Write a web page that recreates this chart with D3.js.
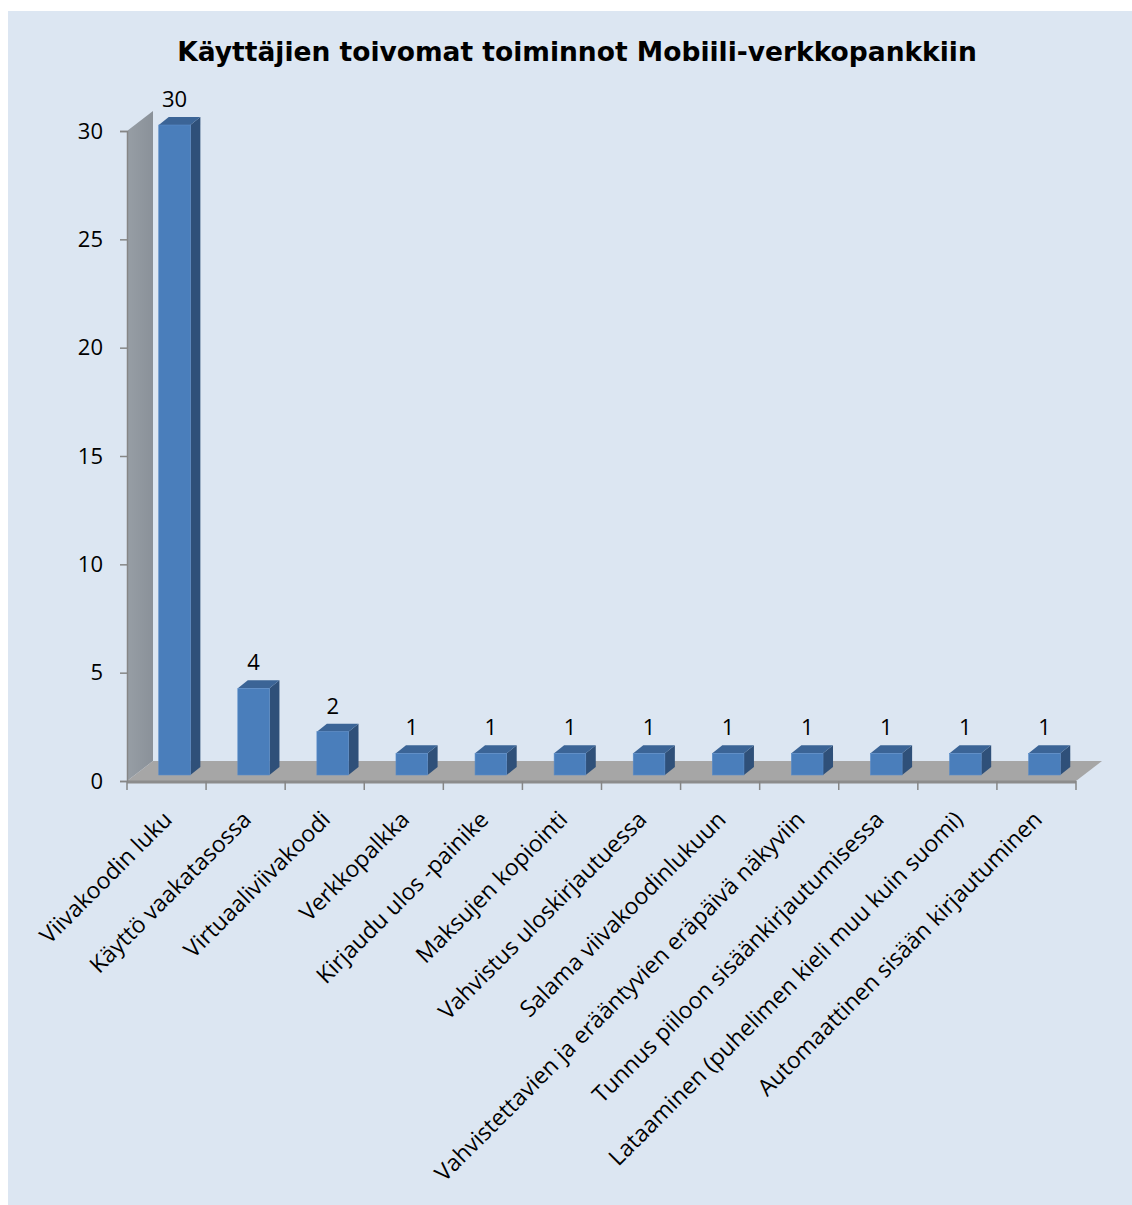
<!DOCTYPE html>
<html>
<head>
<meta charset="utf-8">
<script src="https://cdn.jsdelivr.net/npm/d3@7"></script>
<style>
  html, body { margin: 0; padding: 0; background: #ffffff; }
  svg { display: block; }
</style>
</head>
<body>
<svg id="chart" width="1132" height="1205"></svg>
<script>
// Chart data
const chartTitle = "Käyttäjien toivomat toiminnot Mobiili-verkkopankkiin";
const categories = [
  "Viivakoodin luku",
  "Käyttö vaakatasossa",
  "Virtuaaliviivakoodi",
  "Verkkopalkka",
  "Kirjaudu ulos -painike",
  "Maksujen kopiointi",
  "Vahvistus uloskirjautuessa",
  "Salama viivakoodinlukuun",
  "Vahvistettavien ja erääntyvien eräpäivä näkyviin",
  "Tunnus piiloon sisäänkirjautumisessa",
  "Lataaminen (puhelimen kieli muu kuin suomi)",
  "Automaattinen sisään kirjautuminen"
];
const counts = [30, 4, 2, 1, 1, 1, 1, 1, 1, 1, 1, 1];
const yTicks = [0, 5, 10, 15, 20, 25, 30];

const svg = d3.select("#chart");
const labelFont = "'Open Sans', Lato, sans-serif";

// Plot frame
const plot = { left: 127, right: 1076, top: 131, bottom: 781 };
const depth = { dx: 26, dy: -20 };      // back wall / floor depth
const barShift = { dx: 8, dy: -6 };     // bars sit partway into the floor
const barDepth = { dx: 10, dy: -8 };    // bar thickness

const x = d3.scaleBand().domain(categories).range([plot.left, plot.right]).paddingInner(0).paddingOuter(0);
const y = d3.scaleLinear().domain([0, 30]).range([plot.bottom, plot.top]);

// Chart area background
svg.append("rect")
  .attr("x", 8).attr("y", 11)
  .attr("width", 1132 - 8).attr("height", 1205 - 11)
  .attr("fill", "#dce6f2");

// Title
svg.append("text")
  .attr("x", 577).attr("y", 61)
  .attr("text-anchor", "middle")
  .attr("font-family", "'DejaVu Sans', sans-serif")
  .attr("font-weight", "bold")
  .attr("font-size", 26.5)
  .attr("fill", "#000")
  .text(chartTitle);

// Back wall (left side)
const wallPts = [
  [plot.left, y(0)],
  [plot.left, y(30)],
  [plot.left + depth.dx, y(30) + depth.dy],
  [plot.left + depth.dx, y(0) + depth.dy]
];
const wallGrad = svg.append("defs").append("linearGradient")
  .attr("id", "wallGrad").attr("x1", 0).attr("x2", 1).attr("y1", 0).attr("y2", 0);
wallGrad.append("stop").attr("offset", 0).attr("stop-color", "#979ea5");
wallGrad.append("stop").attr("offset", 1).attr("stop-color", "#8a9199");
svg.append("polygon")
  .attr("points", wallPts.map(p => p.join(",")).join(" "))
  .attr("fill", "url(#wallGrad)");

// Floor
const floorPts = [
  [plot.left, y(0)],
  [plot.left + depth.dx, y(0) + depth.dy],
  [plot.right + depth.dx, y(0) + depth.dy],
  [plot.right, y(0)]
];
svg.append("polygon")
  .attr("points", floorPts.map(p => p.join(",")).join(" "))
  .attr("fill", "#a6a6a6");
svg.append("line")
  .attr("x1", plot.left).attr("x2", plot.right)
  .attr("y1", y(0) + 1).attr("y2", y(0) + 1)
  .attr("stroke", "#8c8c8c").attr("stroke-width", 3);

// Y axis
const yAxis = svg.append("g")
  .attr("transform", `translate(${plot.left},0)`)
  .call(d3.axisLeft(y).tickValues(yTicks).tickSize(7).tickPadding(17).tickFormat(d3.format("d")));
yAxis.select(".domain").attr("stroke", "#868686").attr("stroke-width", 1.5);
yAxis.selectAll(".tick line").attr("stroke", "#868686").attr("stroke-width", 1.5);
yAxis.selectAll(".tick text")
  .attr("font-family", labelFont)
  .attr("font-size", 22)
  .attr("fill", "#000");

// X axis tick marks at category boundaries
const boundaries = categories.map(c => x(c)).concat([plot.right]);
svg.append("g").selectAll("line")
  .data(boundaries)
  .join("line")
  .attr("x1", d => d).attr("x2", d => d)
  .attr("y1", y(0)).attr("y2", y(0) + 9)
  .attr("stroke", "#868686").attr("stroke-width", 1.5);

// 3D bars
const barW = x.bandwidth() * 0.4;
const bars = svg.append("g").selectAll("g")
  .data(categories.map((c, i) => ({ c, v: counts[i] })))
  .join("g");

function frontX(d) { return x(d.c) + x.bandwidth() / 2 - barW / 2 + barShift.dx; }
function topY(d) { return y(d.v) + barShift.dy; }
const baseY = y(0) + barShift.dy;

// side face
bars.append("polygon")
  .attr("points", d => {
    const x1 = frontX(d) + barW;
    return [
      [x1, topY(d)],
      [x1 + barDepth.dx, topY(d) + barDepth.dy],
      [x1 + barDepth.dx, baseY + barDepth.dy],
      [x1, baseY]
    ].map(p => p.join(",")).join(" ");
  })
  .attr("fill", "#2f5079");
// top face
bars.append("polygon")
  .attr("points", d => {
    const x0 = frontX(d);
    return [
      [x0, topY(d)],
      [x0 + barDepth.dx, topY(d) + barDepth.dy],
      [x0 + barW + barDepth.dx, topY(d) + barDepth.dy],
      [x0 + barW, topY(d)]
    ].map(p => p.join(",")).join(" ");
  })
  .attr("fill", "#3b6496");
// front face
bars.append("rect")
  .attr("x", d => frontX(d))
  .attr("y", d => topY(d))
  .attr("width", barW)
  .attr("height", d => baseY - topY(d))
  .attr("fill", "#4a7ebb")
  .attr("stroke", "#5a8cc8").attr("stroke-width", 0.6);

// value labels
bars.append("text")
  .attr("x", d => frontX(d) + barW / 2)
  .attr("y", d => topY(d) + barDepth.dy - 10)
  .attr("text-anchor", "middle")
  .attr("font-family", labelFont)
  .attr("font-size", 22)
  .attr("fill", "#000")
  .text(d => d.v);

// Category labels, rotated
svg.append("g").selectAll("text")
  .data(categories)
  .join("text")
  .attr("transform", d => `translate(${x(d) + x.bandwidth() / 2 + 7},${y(0) + 40}) rotate(-45)`)
  .attr("text-anchor", "end")
  .attr("font-family", labelFont)
  .attr("font-size", 23)
  .attr("fill", "#000")
  .text(d => d);
</script>
</body>
</html>
